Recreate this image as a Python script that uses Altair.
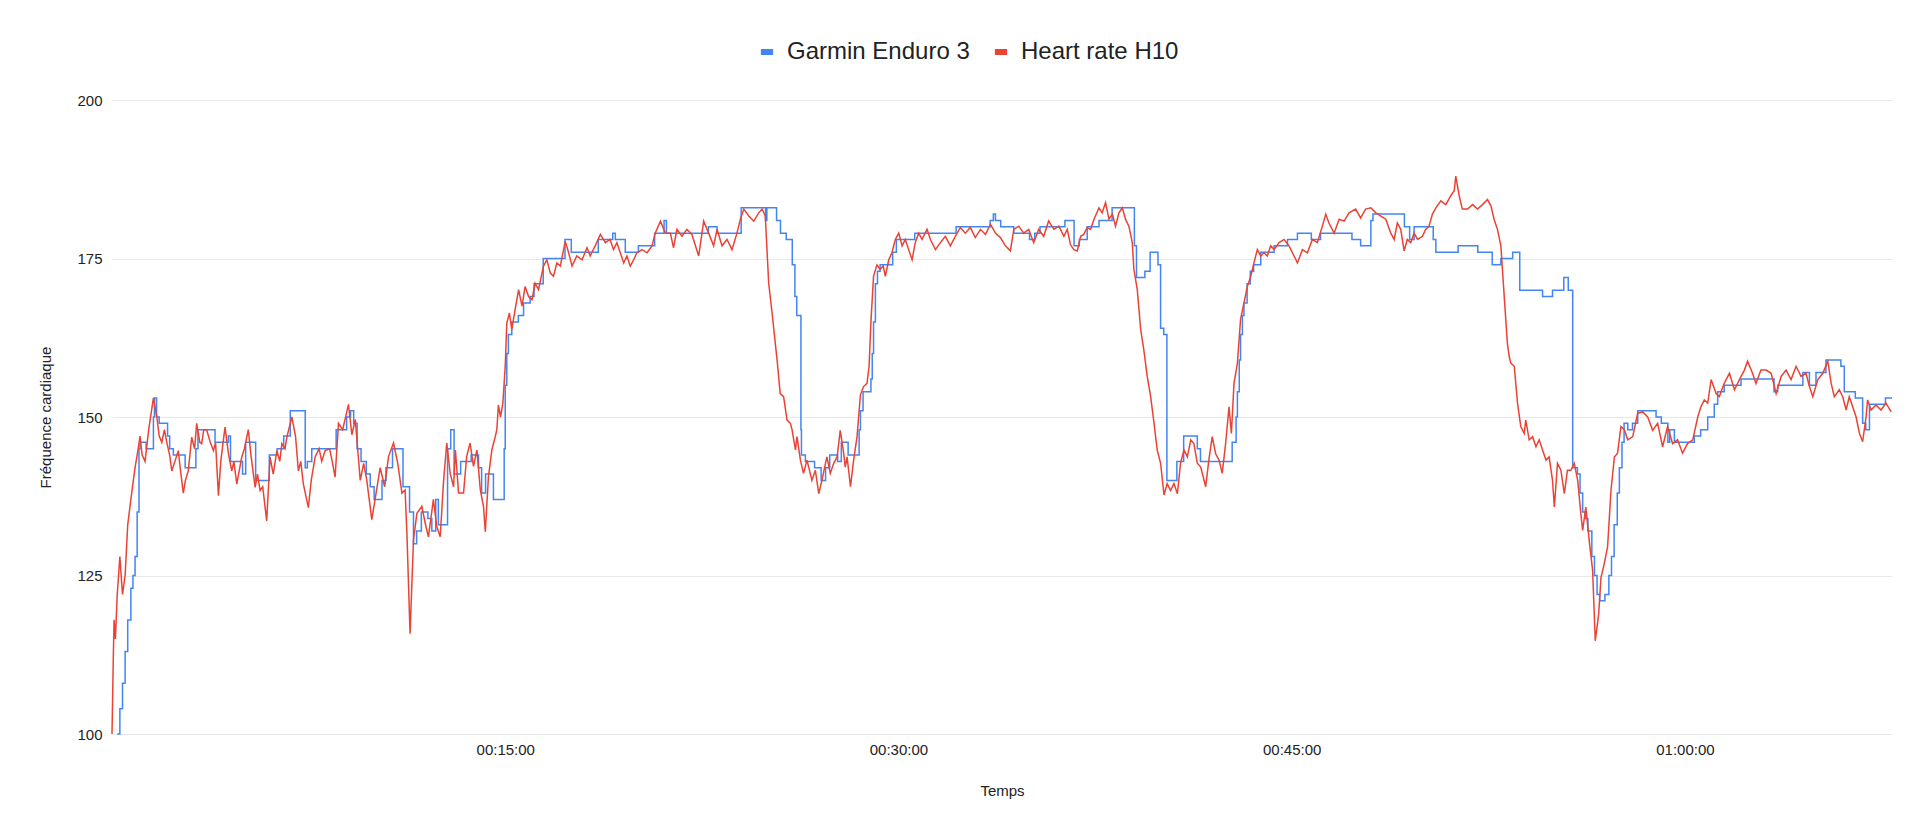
import altair as alt
import pandas as pd

# ---- data (time in minutes, heart rate in bpm) ----
garmin_min = [
    0.2, 0.3, 0.4, 0.5, 0.6, 0.72, 0.8, 0.88, 0.96, 1.03,
    1.07, 1.3, 1.58, 1.62, 1.7, 1.8, 2.12, 2.2, 2.34, 2.79,
    3.2, 3.28, 3.93, 4.44, 4.52, 4.98, 5.1, 5.48, 6.0, 6.3,
    6.55, 6.8, 7.37, 7.45, 7.62, 8.55, 8.95, 9.1, 9.22, 9.35,
    9.5, 9.7, 9.85, 10.0, 10.3, 10.45, 10.7, 11.1, 11.35, 11.5,
    11.62, 11.8, 12.05, 12.2, 12.35, 12.45, 12.8, 12.92, 13.05, 13.3,
    13.7, 13.98, 14.1, 14.25, 14.55, 14.96, 15.0, 15.06, 15.12, 15.25,
    15.5, 15.7, 15.95, 16.1, 16.45, 17.28, 17.52, 18.55, 19.1, 19.2,
    19.58, 20.08, 20.7, 21.06, 21.15, 22.75, 23.08, 24.0, 24.93, 24.98,
    25.35, 25.5, 25.72, 25.95, 26.05, 26.12, 26.28, 26.3, 26.45, 26.8,
    27.05, 27.22, 27.38, 27.68, 27.82, 28.08, 28.5, 28.55, 28.65, 28.95,
    29.0, 29.05, 29.12, 29.2, 29.3, 29.78, 29.92, 30.62, 32.2, 33.5,
    33.62, 33.7, 33.9, 34.4, 35.0, 35.2, 35.4, 36.35, 36.7, 36.9,
    37.2, 37.65, 38.15, 39.0, 39.08, 39.4, 39.6, 39.9, 40.0, 40.12,
    40.24, 40.62, 40.88, 41.4, 41.52, 42.73, 42.88, 42.93, 43.0, 43.05,
    43.12, 43.18, 43.3, 43.42, 43.55, 43.82, 44.33, 44.84, 45.22, 45.75,
    46.1, 47.3, 47.63, 48.02, 48.1, 49.3, 49.5, 49.67, 50.4, 50.5,
    51.35, 52.1, 52.65, 52.98, 53.43, 53.7, 54.57, 54.95, 55.38, 55.55,
    55.72, 55.9, 56.0, 56.1, 56.2, 56.3, 56.45, 56.55, 56.65, 56.75,
    56.95, 57.1, 57.2, 57.3, 57.42, 57.5, 57.6, 57.68, 57.82, 58.0,
    58.2, 58.9, 59.1, 59.35, 59.42, 59.6, 60.36, 60.6, 60.87, 61.12,
    61.25, 61.5, 62.14, 63.4, 63.54, 64.5, 64.75, 65.0, 65.38, 65.95,
    66.08, 66.5, 66.78, 66.9, 67.04, 67.65, 67.9,
]
garmin_bpm = [
    100, 104, 108, 113, 118, 123, 125, 128, 135, 145,
    146, 145, 150, 153, 150, 149, 147, 145, 144, 142,
    145, 148, 146, 147, 143, 141, 146, 140, 144, 145,
    147, 151, 142, 143, 145, 148, 150, 151, 149, 145,
    143, 141, 139, 137, 140, 142, 145, 139, 135, 130,
    132, 135, 134, 132, 137, 133, 145, 148, 141, 143,
    144, 142, 138, 141, 137, 145, 155, 160, 163, 165,
    166, 168, 169, 171, 175, 178, 176, 178, 179, 178,
    176, 177, 179, 181, 179, 180, 179, 183, 181, 183,
    181, 179, 178, 174, 169, 166, 148, 144, 143, 142,
    140, 142, 144, 143, 146, 144, 148, 151, 154, 156,
    160, 165, 171, 173, 174, 176, 178, 179, 180, 181,
    182, 181, 180, 179, 178, 179, 180, 181, 177, 178,
    180, 181, 183, 177, 172, 173, 176, 174, 164, 163,
    140, 143, 147, 145, 143, 146, 150, 154, 159, 163,
    166, 168, 171, 173, 174, 176, 177, 178, 179, 178,
    179, 178, 177, 181, 182, 180, 178, 180, 178, 176,
    177, 176, 174, 175, 176, 170, 169, 170, 172, 170,
    142, 141, 138, 135, 134, 132, 128, 125, 122, 121,
    122, 125, 128, 133, 138, 142, 146, 149, 148, 149,
    151, 150, 149, 146, 148, 146, 147, 148, 150, 152,
    154, 155, 156, 154, 155, 157, 155, 157, 159, 158,
    154, 153, 149, 148, 152, 153, 153,
]

h10_min = [
    0.0, 0.05, 0.08, 0.13, 0.2, 0.3, 0.4, 0.5, 0.6, 0.75,
    0.88, 1.0, 1.07, 1.15, 1.26, 1.4, 1.58, 1.71, 1.8, 1.9,
    2.0, 2.09, 2.2, 2.28, 2.4, 2.53, 2.6, 2.72, 2.8, 2.91,
    3.04, 3.15, 3.23, 3.35, 3.42, 3.5, 3.61, 3.75, 3.87, 3.95,
    4.06, 4.15, 4.31, 4.45, 4.57, 4.65, 4.76, 4.95, 5.05, 5.2,
    5.3, 5.46, 5.55, 5.65, 5.75, 5.9, 6.03, 6.15, 6.29, 6.4,
    6.48, 6.6, 6.67, 6.86, 7.0, 7.11, 7.2, 7.3, 7.49, 7.6,
    7.75, 7.9, 8.0, 8.13, 8.3, 8.4, 8.51, 8.64, 8.8, 9.02,
    9.15, 9.28, 9.47, 9.6, 9.72, 9.91, 10.05, 10.23, 10.4, 10.55,
    10.74, 10.9, 11.06, 11.18, 11.25, 11.37, 11.5, 11.63, 11.82, 11.95,
    12.07, 12.26, 12.39, 12.52, 12.65, 12.77, 12.9, 13.03, 13.1, 13.22,
    13.41, 13.53, 13.66, 13.79, 13.92, 14.05, 14.17, 14.24, 14.36, 14.49,
    14.62, 14.68, 14.74, 14.82, 14.91, 15.0, 15.06, 15.16, 15.25, 15.38,
    15.51, 15.64, 15.76, 15.89, 16.02, 16.14, 16.27, 16.46, 16.59, 16.72,
    16.84, 16.97, 17.1, 17.29, 17.42, 17.55, 17.73, 17.93, 18.12, 18.24,
    18.43, 18.63, 18.82, 19.0, 19.13, 19.26, 19.39, 19.52, 19.64, 19.77,
    19.9, 20.02, 20.22, 20.41, 20.6, 20.72, 20.92, 21.11, 21.3, 21.42,
    21.55, 21.74, 21.93, 22.12, 22.38, 22.57, 22.76, 22.95, 23.08, 23.27,
    23.46, 23.65, 23.84, 23.97, 24.1, 24.29, 24.48, 24.67, 24.8, 24.92,
    25.05, 25.18, 25.3, 25.37, 25.49, 25.62, 25.75, 25.88, 25.94, 26.07,
    26.13, 26.26, 26.38, 26.51, 26.7, 26.83, 26.96, 27.08, 27.27, 27.4,
    27.53, 27.66, 27.78, 27.91, 27.97, 28.04, 28.17, 28.29, 28.42, 28.55,
    28.67, 28.8, 28.88, 28.95, 29.05, 29.18, 29.3, 29.42, 29.5, 29.63,
    29.75, 29.88, 30.01, 30.14, 30.26, 30.39, 30.52, 30.64, 30.77, 30.9,
    31.09, 31.22, 31.41, 31.6, 31.79, 31.98, 32.17, 32.36, 32.55, 32.74,
    32.93, 33.13, 33.32, 33.51, 33.7, 33.89, 34.08, 34.27, 34.4, 34.59,
    34.78, 34.97, 35.16, 35.35, 35.54, 35.73, 35.93, 36.12, 36.31, 36.44,
    36.56, 36.69, 36.82, 36.95, 37.07, 37.2, 37.33, 37.46, 37.65, 37.77,
    37.9, 38.03, 38.16, 38.28, 38.41, 38.54, 38.66, 38.79, 38.92, 38.98,
    39.11, 39.24, 39.36, 39.49, 39.62, 39.75, 39.87, 40.0, 40.13, 40.25,
    40.38, 40.51, 40.64, 40.76, 40.89, 41.02, 41.15, 41.27, 41.4, 41.53,
    41.72, 41.84, 41.97, 42.1, 42.23, 42.35, 42.48, 42.61, 42.7, 42.8,
    42.93, 43.05, 43.18, 43.31, 43.44, 43.56, 43.69, 43.82, 43.94, 44.07,
    44.2, 44.33, 44.52, 44.71, 44.9, 45.09, 45.22, 45.41, 45.6, 45.79,
    45.98, 46.17, 46.3, 46.42, 46.62, 46.81, 47.0, 47.19, 47.44, 47.63,
    47.82, 48.02, 48.21, 48.4, 48.59, 48.78, 48.91, 49.03, 49.16, 49.29,
    49.41, 49.54, 49.67, 49.8, 49.99, 50.11, 50.24, 50.37, 50.5, 50.69,
    50.88, 51.07, 51.2, 51.26, 51.39, 51.51, 51.71, 51.9, 52.09, 52.28,
    52.47, 52.6, 52.72, 52.85, 52.98, 53.1, 53.23, 53.3, 53.36, 53.49,
    53.62, 53.74, 53.87, 53.93, 54.06, 54.19, 54.32, 54.44, 54.57, 54.7,
    54.82, 54.95, 55.02, 55.14, 55.27, 55.4, 55.52, 55.65, 55.78, 55.91,
    56.03, 56.1, 56.22, 56.35, 56.48, 56.58, 56.71, 56.8, 56.92, 57.05,
    57.18, 57.31, 57.43, 57.56, 57.69, 57.82, 58.01, 58.2, 58.39, 58.58,
    58.77, 58.96, 59.15, 59.34, 59.53, 59.72, 59.91, 60.1, 60.3, 60.49,
    60.61, 60.74, 60.87, 61.0, 61.19, 61.31, 61.5, 61.7, 61.89, 62.08,
    62.27, 62.39, 62.58, 62.71, 62.9, 63.1, 63.29, 63.48, 63.67, 63.86,
    64.05, 64.24, 64.43, 64.62, 64.75, 64.88, 65.07, 65.26, 65.45, 65.58,
    65.7, 65.89, 66.02, 66.15, 66.27, 66.4, 66.53, 66.66, 66.78, 66.91,
    66.97, 67.1, 67.29, 67.48, 67.67, 67.87,
]
h10_bpm = [
    100, 112, 118, 115, 122, 128, 122, 125, 133, 138,
    142, 145, 147, 144, 143, 148, 153, 150, 147, 146,
    148, 146, 144, 141.5, 143, 144.7, 142, 138, 140, 141.5,
    146.8, 145, 149, 146, 145.8, 148, 148, 146, 144.7, 146,
    137.6, 143, 148.4, 144, 141.5, 143, 139.4, 143.7, 145, 148,
    144, 138.9, 141, 138.4, 139, 133.6, 143.7, 141, 144.7, 143,
    145.8, 145, 146.8, 150, 147, 141.5, 143, 139.4, 135.7, 140,
    143.7, 145, 143, 144.7, 145, 143, 140.5, 149, 148, 152,
    147.2, 149.6, 140, 142.7, 140, 133.8, 137.4, 142, 139, 143.8,
    145.9, 142.7, 138, 138.5, 131.6, 115.8, 130.6, 134.8, 135.9, 133.2,
    131.1, 137, 132.7, 131.1, 140, 145.9, 141.1, 139, 144.8, 138,
    138, 143.8, 145.9, 142.2, 144.8, 138.5, 135.9, 131.9, 140.6, 144.8,
    146.9, 148, 151.9, 150, 152.2, 158, 164.8, 166.4, 163.8, 167,
    170.1, 167.5, 170.6, 169, 168.5, 171.1, 170.1, 173.8, 174.8, 172.7,
    172.2, 174.3, 173.8, 177.7, 175.9, 173.8, 175.4, 174.8, 176.7, 175.4,
    177, 178.8, 177.5, 178, 176.4, 177.5, 175.9, 174.3, 175.4, 173.8,
    174.8, 175.9, 176.4, 175.9, 177, 179, 180.9, 179, 179, 176.7,
    179.6, 178.5, 179.6, 178.8, 175.4, 180.9, 179, 177, 179.6, 177,
    178, 176.4, 179, 181.2, 182.8, 181.7, 180.9, 182.2, 182.8, 181.7,
    171.1, 166.4, 161.7, 159, 153.7, 153.2, 149.5, 149, 148, 144.8,
    146.9, 143.2, 141.1, 143.2, 140, 141.6, 137.9, 140, 143.7, 141.1,
    142.7, 143.7, 147.9, 144.3, 142.1, 143.7, 139, 143.2, 146.9, 153.5,
    154.8, 155.3, 158, 165, 172.2, 174, 173.3, 173.8, 172.2, 174.8,
    175.9, 178, 179, 177, 178, 176.4, 174.8, 177.5, 179, 178,
    179.6, 178, 176.4, 177.5, 178.5, 177, 178.5, 179.9, 179, 179.9,
    178.3, 179.6, 178.8, 180.4, 179, 178.3, 177, 176.2, 179.6, 180.1,
    179, 179.6, 177.5, 179.6, 178.5, 180.9, 179.6, 180.1, 178.5, 179.6,
    177.2, 176.4, 176.2, 178.5, 178.8, 179.9, 179.6, 181.2, 183, 182.2,
    183.8, 181.2, 182, 180.1, 182.2, 183, 181.2, 180.1, 177.5, 173.3,
    170.1, 163.8, 160.6, 156.4, 153.2, 149, 144.8, 142.7, 137.7, 139.5,
    138.4, 139.5, 137.9, 142.7, 144.8, 143.7, 146.4, 145.8, 142.7, 142.1,
    139, 143.2, 146.9, 144.2, 143.2, 141.1, 145.8, 151.6, 147.4, 155.3,
    158.5, 165.4, 168, 170.6, 172.2, 174.3, 176.4, 175.4, 175.9, 175.4,
    177, 176.4, 177.5, 178, 177, 175.4, 174.3, 176.4, 175.9, 178,
    177.5, 180.1, 182, 180.6, 179, 181.2, 180.9, 182.2, 182.8, 181.4,
    182.8, 183, 182.2, 181.7, 181.2, 179, 178, 180.6, 179.6, 176.2,
    178, 177.5, 179, 178, 178.5, 179.6, 180.1, 182, 183, 184.1,
    183.5, 184.9, 185.7, 188, 184.9, 182.8, 182.8, 183.5, 182.8, 183.5,
    184.3, 183.3, 181.2, 179.6, 177, 169.5, 161.5, 159.5, 158.5, 158,
    152, 148.5, 147.4, 149.5, 146.4, 146.9, 145.3, 146.4, 144.8, 143.2,
    143.7, 140, 135.8, 142.7, 141.6, 137.9, 141.6, 141.6, 142.7, 140,
    134.8, 132.1, 135.8, 130.5, 125.8, 114.7, 118.9, 124.7, 126.8, 129.5,
    138.4, 143.7, 144.3, 148.5, 148, 146.4, 146.9, 150.6, 150.8, 150,
    147.9, 149, 145.3, 148.5, 145.8, 146.4, 144.3, 145.8, 146.4, 150,
    151.6, 152.7, 152.2, 155.9, 153.7, 153.2, 155.3, 156.9, 154.3, 155.9,
    157.4, 158.8, 156.9, 155.3, 157.4, 157.4, 156.9, 153.7, 156.4, 157.4,
    155.9, 158, 156.4, 156.9, 154.8, 153.2, 155.9, 156.9, 158.8, 155.3,
    153.2, 154.3, 153.2, 151.1, 153.2, 151.6, 150, 147.4, 146.1, 150,
    152.7, 151.1, 151.9, 151.1, 152.2, 150.8,
]

series_names = ["Garmin Enduro 3", "Heart rate H10"]
series_colors = ["#4285F4", "#EA4335"]
x_tick_minutes = [15, 30, 45, 60]
y_ticks = [100, 125, 150, 175, 200]

assert len(garmin_min) == len(garmin_bpm), (len(garmin_min), len(garmin_bpm))
assert len(h10_min) == len(h10_bpm), (len(h10_min), len(h10_bpm))

df_garmin = pd.DataFrame({"t": garmin_min, "bpm": garmin_bpm, "series": series_names[0]})
df_h10 = pd.DataFrame({"t": h10_min, "bpm": h10_bpm, "series": series_names[1]})

FONT = "Liberation Sans, Arial, sans-serif"
TXT = "#222222"
W, H = 1780, 634

x_enc = alt.X(
    "t:Q",
    scale=alt.Scale(domain=[0, 67.9], nice=False, zero=False),
    axis=alt.Axis(
        values=x_tick_minutes,
        labelExpr="utcFormat(datum.value * 60000, '%H:%M:%S')",
        title="Temps",
        grid=False, domain=False, ticks=False, tickSize=0,
        labelPadding=8, labelFontSize=15, labelFont=FONT, labelColor=TXT,
        labelFlush=False,
        titleFont=FONT, titleFontSize=15, titleFontWeight="normal", titleColor=TXT,
        titleX=W / 2, titleY=56, titleAlign="center", titleBaseline="middle",
    ),
)
y_enc = alt.Y(
    "bpm:Q",
    scale=alt.Scale(domain=[100, 200], nice=False, zero=False),
    axis=alt.Axis(
        values=y_ticks,
        title="Fréquence cardiaque",
        grid=True, gridColor="#e8e8e8", gridWidth=1,
        domain=False, ticks=False, tickSize=0,
        labelPadding=10, labelFontSize=15, labelFont=FONT, labelColor=TXT,
        titleFont=FONT, titleFontSize=15, titleFontWeight="normal", titleColor=TXT,
        titleX=-67, titleY=H / 2, titleAngle=270, titleAlign="center", titleBaseline="middle",
    ),
)
color_enc = alt.Color(
    "series:N",
    scale=alt.Scale(domain=series_names, range=series_colors),
    legend=alt.Legend(
        title=None, orient="none", legendX=643, legendY=-60, direction="horizontal",
        labelFontSize=24, labelFont=FONT, labelColor=TXT, labelLimit=400,
        symbolType="stroke", symbolSize=150, symbolStrokeWidth=6,
        labelOffset=8, columnPadding=12, padding=0,
    ),
)

garmin_line = alt.Chart(df_garmin).mark_line(interpolate="step-after", strokeWidth=1.5).encode(
    x=x_enc, y=y_enc, color=color_enc
)
h10_line = alt.Chart(df_h10).mark_line(strokeWidth=1.5).encode(
    x=x_enc, y=y_enc, color=color_enc
)

chart = alt.layer(garmin_line, h10_line).properties(
    width=W, height=H,
    padding={"left": 104, "top": 92, "right": 16, "bottom": 70},
    autosize=alt.AutoSizeParams(type="none"),
    background="white",
).configure_view(strokeWidth=0)

chart.save("out.html", embed_options={"renderer": "svg", "actions": False})
